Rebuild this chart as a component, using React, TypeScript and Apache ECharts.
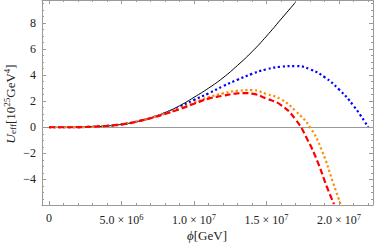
import React, { useEffect, useRef } from "react";
import * as echarts from "echarts";

// phi in GeV, U in 10^25 GeV^4
const PHI_BLACK = [0, 1e6, 2e6, 3e6, 4e6, 5e6, 6e6, 7e6, 8e6, 9e6, 1.0e7, 1.1e7, 1.2e7, 1.3e7, 1.4e7, 1.5e7, 1.6e7, 1.7e7];
const U_BLACK = [0, 0, 0.01, 0.04, 0.1, 0.22, 0.42, 0.72, 1.13, 1.65, 2.3, 3.0, 3.8, 4.75, 5.8, 7.0, 8.3, 9.6];

const PHI_BLUE = [0, 1e6, 2e6, 3e6, 4e6, 5e6, 6e6, 7e6, 8e6, 9e6, 1.0e7, 1.1e7, 1.2e7, 1.3e7, 1.4e7, 1.5e7, 1.6e7, 1.7e7, 1.8e7, 1.9e7, 2.0e7, 2.1e7, 2.2e7];
const U_BLUE = [0, 0, 0.01, 0.04, 0.1, 0.22, 0.42, 0.71, 1.08, 1.55, 2.1, 2.6, 3.15, 3.65, 4.1, 4.45, 4.65, 4.7, 4.45, 3.85, 2.9, 1.65, 0.02];

const PHI_ORANGE = [0, 1e6, 2e6, 3e6, 4e6, 5e6, 6e6, 7e6, 8e6, 9e6, 1.0e7, 1.1e7, 1.2e7, 1.3e7, 1.4e7, 1.5e7, 1.6e7, 1.7e7, 1.8e7, 1.88e7, 1.96e7, 2.01e7];
const U_ORANGE = [0, 0, 0.01, 0.04, 0.1, 0.22, 0.42, 0.7, 1.05, 1.45, 1.9, 2.3, 2.6, 2.8, 2.85, 2.55, 2.15, 1.25, 0, -1.75, -4.3, -5.9];

const PHI_RED = [0, 1e6, 2e6, 3e6, 4e6, 5e6, 6e6, 7e6, 8e6, 9e6, 1.0e7, 1.1e7, 1.2e7, 1.3e7, 1.35e7, 1.4e7, 1.5e7, 1.6e7, 1.7e7, 1.78e7, 1.85e7, 1.915e7, 1.965e7];
const U_RED = [0, 0, 0.01, 0.04, 0.1, 0.22, 0.42, 0.69, 1.02, 1.38, 1.8, 2.2, 2.42, 2.6, 2.62, 2.58, 2.2, 1.7, 0.6, -0.9, -2.6, -4.55, -5.9];

const X_MAJOR = [0, 5e6, 1e7, 1.5e7, 2e7];
const X_LABELS = ["0", "5.0 × 10{s|6}", "1.0 × 10{s|7}", "1.5 × 10{s|7}", "2.0 × 10{s|7}"];
const Y_MAJOR = [-4, -2, 0, 2, 4, 6, 8];
const Y_LABELS = ["−4", "−2", "0", "2", "4", "6", "8"];

const XMIN = -4.83e5;
const XMAX = 2.234e7;
const YMIN = -5.97;
const YMAX = 9.77;

const FONT = "Liberation Serif";
const FRAME = "#9a9a9a";
const TXT = "#222";

function zip(a: number[], b: number[]) {
  return a.map((v, i) => [v, b[i]]);
}

export default function App() {
  const ref = useRef<HTMLDivElement>(null);
  useEffect(() => {
    const chart = echarts.init(ref.current!, undefined, { renderer: "svg" });
    const xMinor: number[] = [];
    for (let v = 0; v <= XMAX; v += 1e6) if (!X_MAJOR.includes(v)) xMinor.push(v);
    const yMinor: number[] = [];
    for (let v = -5.5; v <= YMAX; v += 0.5) if (!Y_MAJOR.includes(v)) yMinor.push(v);

    const xAxisBase = (pos: "bottom" | "top", values: number[], len: number, labels: boolean, line: boolean) => ({
      type: "value",
      min: XMIN,
      max: XMAX,
      position: pos,
      axisLine: { show: line, onZero: false, lineStyle: { color: FRAME, width: 1 } },
      axisTick: { show: true, inside: true, length: len, customValues: values, lineStyle: { color: FRAME, width: 1 } },
      axisLabel: labels
        ? {
            show: true,
            customValues: X_MAJOR,
            margin: 7,
            color: TXT,
            fontFamily: FONT,
            fontSize: 12,
            formatter: (v: number) => {
              const i = X_MAJOR.findIndex((m) => Math.abs(m - v) < 1);
              return i >= 0 ? X_LABELS[i] : "";
            },
            rich: { s: { fontSize: 8.5, fontFamily: FONT, color: TXT, padding: [0, 0, 7, 0] } },
          }
        : { show: false },
      splitLine: { show: false },
    });
    const yAxisBase = (pos: "left" | "right", values: number[], len: number, labels: boolean, line: boolean) => ({
      type: "value",
      min: YMIN,
      max: YMAX,
      position: pos,
      axisLine: { show: line, onZero: false, lineStyle: { color: FRAME, width: 1 } },
      axisTick: { show: true, inside: true, length: len, customValues: values, lineStyle: { color: FRAME, width: 1 } },
      axisLabel: labels
        ? {
            show: true,
            customValues: Y_MAJOR,
            margin: 6,
            color: TXT,
            fontFamily: FONT,
            fontSize: 12,
            formatter: (v: number) => {
              const i = Y_MAJOR.findIndex((m) => Math.abs(m - v) < 1e-6);
              return i >= 0 ? Y_LABELS[i] : "";
            },
          }
        : { show: false },
      splitLine: { show: false },
    });

    chart.setOption({
      animation: false,
      grid: { left: 42, right: 1, top: 0, bottom: 42, containLabel: false },
      xAxis: [
        xAxisBase("bottom", X_MAJOR, 4, true, true),
        xAxisBase("bottom", xMinor, 2, false, false),
        xAxisBase("top", X_MAJOR, 4, false, true),
        xAxisBase("top", xMinor, 2, false, false),
      ],
      yAxis: [
        yAxisBase("left", Y_MAJOR, 4, true, true),
        yAxisBase("left", yMinor, 2, false, false),
        yAxisBase("right", Y_MAJOR, 4, false, true),
        yAxisBase("right", yMinor, 2, false, false),
      ],
      graphic: [
        {
          type: "text",
          x: 2,
          y: 104,
          rotation: Math.PI / 2,
          style: {
            text: "{i|U}{sub|eff}[10{sup|25}GeV{sup|4}]",
            align: "center",
            verticalAlign: "top",
            fill: TXT,
            font: `13px "${FONT}"`,
            rich: {
              i: { fontSize: 13.5, fontStyle: "italic", fontFamily: FONT, fill: TXT },
              sub: { fontSize: 9, fontFamily: FONT, fill: TXT, padding: [6, 0, 0, 0] },
              sup: { fontSize: 9, fontFamily: FONT, fill: TXT, padding: [0, 0, 7, 0] },
            },
          },
        },
        {
          type: "text",
          x: 207,
          y: 229,
          style: {
            text: "{i|ϕ}[GeV]",
            align: "center",
            verticalAlign: "top",
            fill: TXT,
            font: `13px "${FONT}"`,
            rich: {
              i: { fontSize: 13, fontStyle: "italic", fontFamily: FONT, fill: TXT },
            },
          },
        },
      ],
      series: [
        {
          type: "line",
          data: zip(PHI_BLACK, U_BLACK),
          showSymbol: false,
          smooth: true,
          lineStyle: { color: "#000", width: 1 },
          markLine: {
            silent: true,
            symbol: "none",
            label: { show: false },
            lineStyle: { color: "#999", width: 1, type: "solid" },
            data: [{ yAxis: 0 }],
          },
          z: 3,
        },
        {
          type: "line",
          data: zip(PHI_BLUE, U_BLUE),
          showSymbol: false,
          smooth: true,
          lineStyle: { color: "#0000ff", width: 2.2, type: [2.2, 2.6], cap: "butt" },
          z: 4,
        },
        {
          type: "line",
          data: zip(PHI_ORANGE, U_ORANGE),
          showSymbol: false,
          smooth: true,
          lineStyle: { color: "#ff8c00", width: 2.2, type: [2.2, 2.6], cap: "butt" },
          z: 5,
        },
        {
          type: "line",
          data: zip(PHI_RED, U_RED),
          showSymbol: false,
          smooth: true,
          lineStyle: { color: "#ff0000", width: 2.2, type: [6, 3], cap: "butt" },
          z: 6,
        },
      ],
    });
    return () => chart.dispose();
  }, []);
  return <div ref={ref} style={{ width: 374, height: 247, position: "absolute", left: 0, top: 0 }} />;
}
